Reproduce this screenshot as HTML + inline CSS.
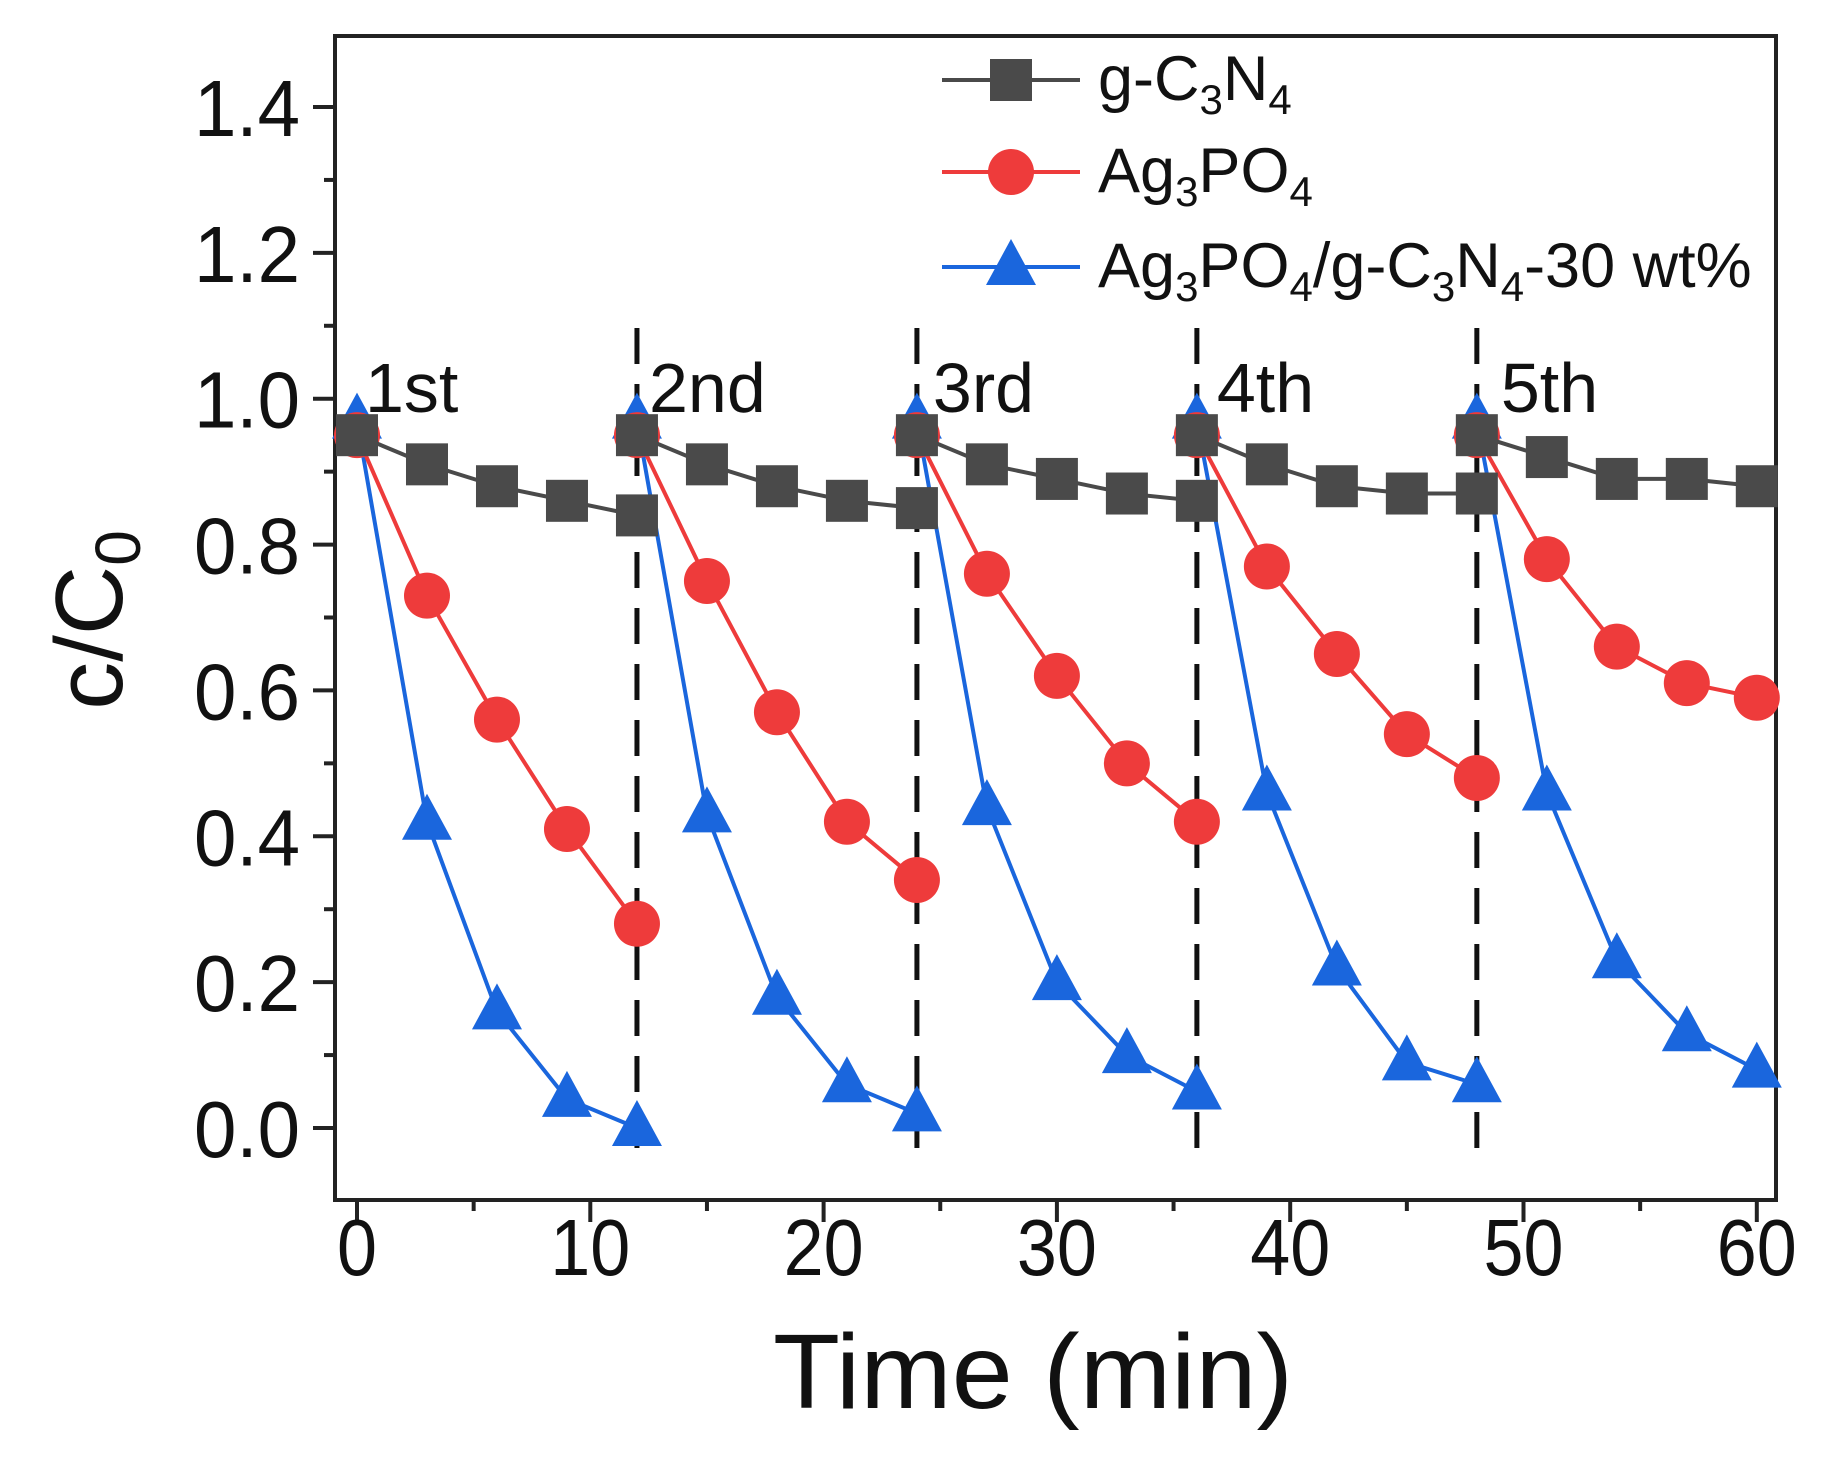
<!DOCTYPE html>
<html><head><meta charset="utf-8"><style>
html,body{margin:0;padding:0;background:#fff}
svg{display:block}
text{font-family:"Liberation Sans",Arial,sans-serif;fill:#111}
</style></head><body>
<svg id="chart" width="1831" height="1459" viewBox="0 0 1831 1459" xmlns="http://www.w3.org/2000/svg">
<g id="plot"></g>
</svg>
<script>
const cycleTimes = [0, 3, 6, 9, 12];
const cycleLabels = ["1st", "2nd", "3rd", "4th", "5th"];
const gcnValues = [[0.95,0.91,0.88,0.86,0.84],[0.95,0.91,0.88,0.86,0.85],[0.95,0.91,0.89,0.87,0.86],[0.95,0.91,0.88,0.87,0.87],[0.95,0.92,0.89,0.89,0.88]];
const agpValues = [[0.95,0.73,0.56,0.41,0.28],[0.95,0.75,0.57,0.42,0.34],[0.95,0.76,0.62,0.50,0.42],[0.95,0.77,0.65,0.54,0.48],[0.95,0.78,0.66,0.61,0.59]];
const compValues = [[0.97,0.42,0.16,0.04,0.00],[0.97,0.43,0.18,0.06,0.02],[0.97,0.44,0.20,0.10,0.05],[0.97,0.46,0.22,0.09,0.06],[0.97,0.46,0.23,0.13,0.08]];
const xTicks = [0,10,20,30,40,50,60];
const yTicks = [0.0,0.2,0.4,0.6,0.8,1.0,1.2,1.4];
const dividers = [12,24,36,48];

const NS="http://www.w3.org/2000/svg";
const g=document.getElementById('plot');
const L=335,R=1776,T=36,B=1200;
const X=v=>357+v*23.33;
const Y=v=>1128-v*(1021/1.4);
function el(tag,attrs,parent){const e=document.createElementNS(NS,tag);for(const k in attrs)e.setAttribute(k,attrs[k]);(parent||g).appendChild(e);return e;}

const frame=el('rect',{x:L,y:T,width:R-L,height:B-T,fill:'none',stroke:'#222','stroke-width':4});



for(let v=0;v<=60;v+=5){
  const major=v%10===0;
  const t=el('line',{x1:X(v),x2:X(v),y1:B,y2:B+(major?22:11),stroke:'#222','stroke-width':4});
  
  
}
xTicks.forEach(v=>{
  const t=el('text',{x:X(v),y:1275,'text-anchor':'middle','font-size':80,textLength:(String(v).length*40),lengthAdjust:'spacingAndGlyphs'});
  t.textContent=String(v);
  
  
});
for(let i=-1;i<=15;i++){
  const v=i/10;const major=i%2===0;
  if(Y(v)>B||Y(v)<T)continue;
  const t=el('line',{x1:L,x2:L-(major?22:11),y1:Y(v),y2:Y(v),stroke:'#222','stroke-width':4});
  
  
}
yTicks.forEach(v=>{
  const t=el('text',{x:300,y:Y(v)+29,'text-anchor':'end','font-size':80,textLength:106,lengthAdjust:'spacingAndGlyphs'});
  t.textContent=v.toFixed(1);
  
  
});
const xt=el('text',{x:1033,y:1408,'text-anchor':'middle','font-size':106,textLength:520,lengthAdjust:'spacingAndGlyphs'});
xt.textContent='Time (min)';


const yt=el('text',{transform:'translate(122,620) rotate(-90)','text-anchor':'middle','font-size':96});
yt.innerHTML='c/C<tspan font-size="64" dy="18">0</tspan>';



dividers.forEach(v=>{
  const d=el('line',{x1:X(v),x2:X(v),y1:328,y2:1155,stroke:'#111','stroke-width':5,'stroke-dasharray':'36 20'});
  
  
});
cycleLabels.forEach((s,i)=>{
  const t=el('text',{x:X(i*12)+8+i*4,y:412,'font-size':70});
  t.textContent=s;
  
  
});

function marker(type,x,y,color,parent){
  let m;
  if(type==='sq') m=el('rect',{x:x-21,y:y-21,width:42,height:42,fill:color},parent);
  else if(type==='ci') m=el('circle',{cx:x,cy:y,r:23,fill:color},parent);
  else m=el('polygon',{points:`${x},${y-28} ${x+25},${y+18} ${x-25},${y+18}`,fill:color},parent);
  return m;
}
function series(vals,color,type,name){
  const sg=el('g',{});
  
  
  vals.forEach((cyc,c)=>{
    const pts=cyc.map((v,i)=>[X(c*12+cycleTimes[i]),Y(v)]);
    const pl=el('polyline',{points:pts.map(p=>p.join(',')).join(' '),fill:'none',stroke:color,'stroke-width':4},sg);
    
    
    pts.forEach(p=>{
      const m=marker(type,p[0],p[1],color,sg);
      
      
    });
  });
}
series(compValues,'#1a66dd','tr','composite');
series(agpValues,'#ee3b3b','ci','ag3po4');
series(gcnValues,'#4a4a4a','sq','g-c3n4');

const legend=[['sq','#4a4a4a','g-C<tspan font-size="42" dy="14">3</tspan><tspan dy="-14">N</tspan><tspan font-size="42" dy="14">4</tspan>',80],
['ci','#ee3b3b','Ag<tspan font-size="42" dy="14">3</tspan><tspan dy="-14">PO</tspan><tspan font-size="42" dy="14">4</tspan>',172],
['tr','#1a66dd','Ag<tspan font-size="42" dy="14">3</tspan><tspan dy="-14">PO</tspan><tspan font-size="42" dy="14">4</tspan><tspan dy="-14">/g-C</tspan><tspan font-size="42" dy="14">3</tspan><tspan dy="-14">N</tspan><tspan font-size="42" dy="14">4</tspan><tspan dy="-14">-30 wt%</tspan>',267]];
legend.forEach(([t,c,label,y])=>{
  const lg=el('g',{});
  
  
  el('line',{x1:942,x2:1080,y1:y,y2:y,stroke:c,'stroke-width':4},lg);
  marker(t,1011,y,c,lg);
  const tx=el('text',{x:1098,y:y+20,'font-size':63},lg);
  tx.innerHTML=label;
});
</script>
</body></html>
